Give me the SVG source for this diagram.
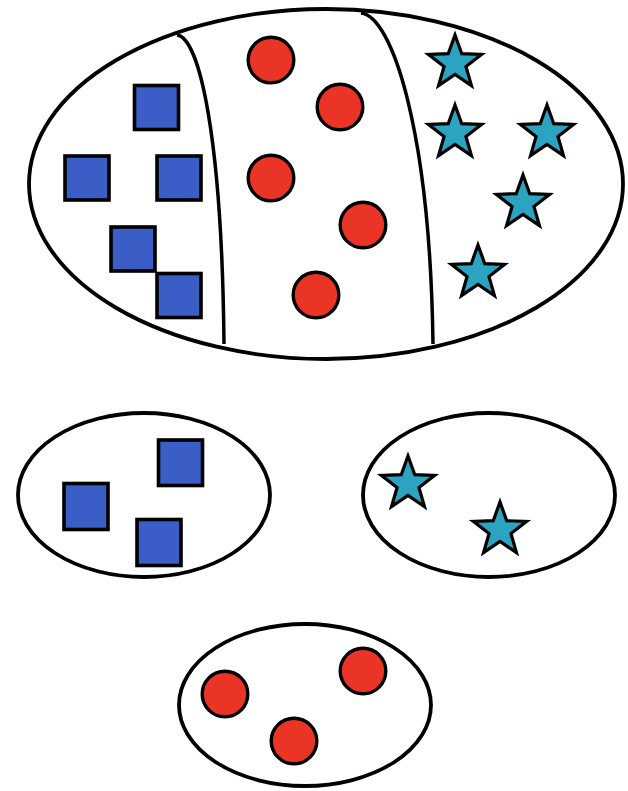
<svg xmlns="http://www.w3.org/2000/svg" width="628" height="791" viewBox="0 0 628 791">
<style>
.set{fill:#fff;stroke:#000;stroke-width:3.8}
.div{fill:none;stroke:#000;stroke-width:3.5;stroke-linecap:butt}
.sq{fill:#3A5DC6;stroke:#000;stroke-width:3.6}
.ci{fill:#E93426;stroke:#000;stroke-width:3.4}
.st{fill:#2BA4C1;stroke:#000;stroke-width:3.2;stroke-linejoin:miter;stroke-miterlimit:10}
</style>
<defs>
<path id="star" d="M0,-28 L6.76,-9.3 L26.63,-8.65 L10.94,3.55 L16.46,22.65 L0,11.5 L-16.46,22.65 L-10.94,3.55 L-26.63,-8.65 L-6.76,-9.3 Z"/>
</defs>
<rect width="628" height="791" fill="#fff"/>
<g id="all-set">
<ellipse class="set" cx="326" cy="184" rx="297" ry="175"/>
<path class="div" d="M177,35 C200,38 222,140 224,344"/>
<path class="div" d="M361,13 C392,16 430,130 433,344"/>
</g>
<g id="squares-top">
<rect class="sq" x="134.5" y="85.5" width="44" height="44"/>
<rect class="sq" x="65" y="156" width="44" height="44"/>
<rect class="sq" x="157" y="156" width="44" height="44"/>
<rect class="sq" x="111" y="227" width="44" height="44"/>
<rect class="sq" x="157" y="273.5" width="44" height="44"/>
</g>
<g id="circles-top">
<circle class="ci" cx="271" cy="60" r="22.8"/>
<circle class="ci" cx="340" cy="107" r="22.8"/>
<circle class="ci" cx="271" cy="178" r="22.8"/>
<circle class="ci" cx="363" cy="225" r="22.8"/>
<circle class="ci" cx="316" cy="295" r="22.8"/>
</g>
<g id="stars-top">
<use href="#star" class="st" x="455" y="63"/>
<use href="#star" class="st" x="455" y="133"/>
<use href="#star" class="st" x="547" y="133"/>
<use href="#star" class="st" x="523" y="203"/>
<use href="#star" class="st" x="478" y="273"/>
</g>
<g id="squares-set">
<ellipse class="set" cx="144" cy="495" rx="126" ry="82"/>
<rect class="sq" x="158.5" y="440" width="44" height="45.5"/>
<rect class="sq" x="64" y="483.5" width="44" height="46"/>
<rect class="sq" x="137" y="519.5" width="44" height="46"/>
</g>
<g id="stars-set">
<ellipse class="set" cx="489" cy="495" rx="126" ry="82"/>
<use href="#star" class="st" x="408" y="484"/>
<use href="#star" class="st" x="500" y="530"/>
</g>
<g id="circles-set">
<ellipse class="set" cx="305" cy="705" rx="126" ry="81"/>
<circle class="ci" cx="225" cy="694" r="22.8"/>
<circle class="ci" cx="363" cy="671" r="22.8"/>
<circle class="ci" cx="294" cy="741" r="22.8"/>
</g>
</svg>
